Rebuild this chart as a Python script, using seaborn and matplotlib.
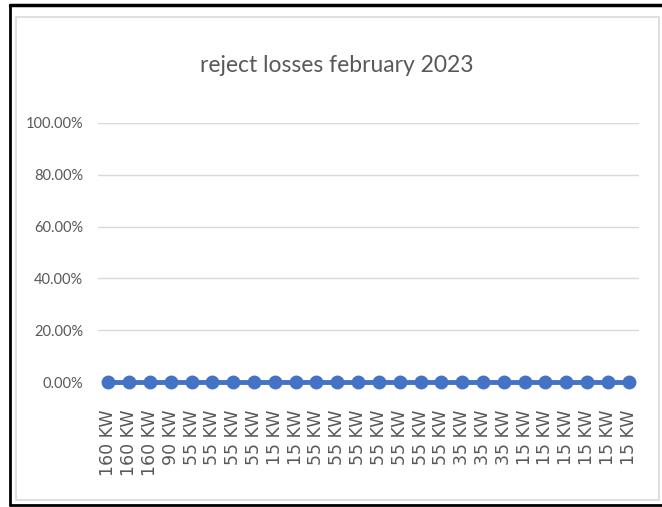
import matplotlib
matplotlib.use("Agg")
import matplotlib.pyplot as plt
import seaborn as sns
import pandas as pd
from matplotlib.patches import Rectangle
from matplotlib.lines import Line2D
from matplotlib.ticker import FuncFormatter

categories = ["160 KW", "160 KW", "160 KW", "90 KW", "55 KW", "55 KW", "55 KW", "55 KW",
              "15 KW", "15 KW", "55 KW", "55 KW", "55 KW", "55 KW", "55 KW", "55 KW",
              "55 KW", "35 KW", "35 KW", "35 KW", "15 KW", "15 KW", "15 KW", "15 KW",
              "15 KW", "15 KW"]
reject_loss = [0.0] * 26
title = "reject losses february 2023"
y_ticks = [0.0, 0.2, 0.4, 0.6, 0.8, 1.0]

df = pd.DataFrame({"pos": range(len(categories)), "cat": categories, "val": reject_loss})

sns.set_theme(style="white")
plt.rcParams['font.family'] = ['Lato', 'DejaVu Sans']

fig = plt.figure(figsize=(6.62, 5.07), dpi=100)
W, H = 662, 507
ax = fig.add_axes([98 / W, 1 - 382 / H, (639 - 98) / W, (382 - 123) / H])

sns.lineplot(data=df, x="pos", y="val", ax=ax, color="#4472C4", linewidth=3.5,
             marker="o", markersize=10, markeredgewidth=0, clip_on=False, zorder=5)

ax.set_xlim(-0.5, len(categories) - 0.5)
ax.set_ylim(0, 1.0)
ax.set_yticks(y_ticks)
ax.yaxis.set_major_formatter(FuncFormatter(lambda v, p: f"{v*100:.2f}%"))
ax.set_xticks(range(len(categories)))
ax.set_xticklabels(categories, rotation=90, family="DejaVu Sans", fontsize=12.5, color="#595959")
ax.tick_params(axis="y", labelsize=10.5, colors="#595959", length=0, pad=10.5)
ax.tick_params(axis="x", length=0, pad=20)
ax.grid(axis="y", color="#D9D9D9", linewidth=1)
ax.set_axisbelow(True)
for s in ax.spines.values():
    s.set_visible(False)
ax.set_xlabel("")
ax.set_ylabel("")

fig.text(337 / W, 1 - 65 / H, title, ha="center", va="center", fontsize=16.5, color="#595959")

# inner chart border (light gray)
fig.add_artist(Rectangle((16 / W, 1 - 500 / H), (659 - 16) / W, (500 - 17) / H,
                         transform=fig.transFigure, fill=False, edgecolor="#D9D9D9", linewidth=1.2))
# outer black frame
fig.add_artist(Line2D([10 / W, 10 / W], [1 - 505 / H, 1 - 5 / H], transform=fig.transFigure, color="black", linewidth=2))
fig.add_artist(Line2D([10 / W, 1], [1 - 5 / H, 1 - 5 / H], transform=fig.transFigure, color="black", linewidth=2.5))
fig.add_artist(Line2D([10 / W, 1], [1 - 505 / H, 1 - 505 / H], transform=fig.transFigure, color="black", linewidth=2))

fig.savefig("out.png", dpi=100, facecolor="white")
